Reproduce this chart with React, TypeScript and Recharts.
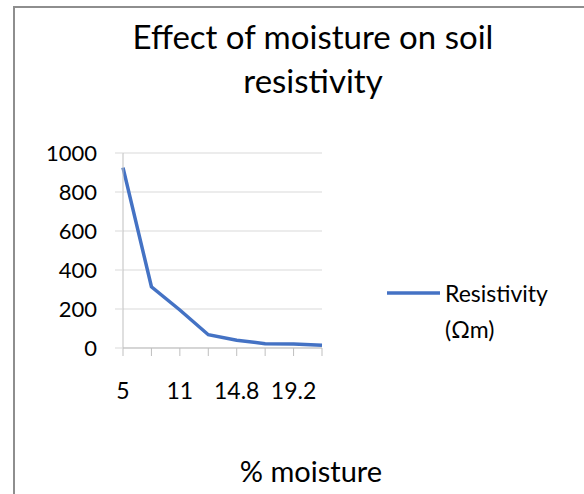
import React from 'react';
import { LineChart, Line, XAxis, YAxis, CartesianGrid, Legend } from 'recharts';

// % moisture categories (hidden labels between the shown ones are estimates)
const moisture = ['5', '8', '11', '13', '14.8', '17', '19.2', '21'];
const resistivity = [925, 314, 195, 68, 40, 22, 20, 14];
const yTicks = [0, 200, 400, 600, 800, 1000];

const SERIES_NAME = 'Resistivity (Ωm)';
const LINE_COLOR = '#4472C4';
const FONT = 'Lato, "Open Sans", "Liberation Sans", sans-serif';

const chartData = moisture.map((m, i) => ({ moisture: m, value: resistivity[i] }));

const LegendContent = () => (
    <div style={{ display: 'flex', alignItems: 'flex-start', fontFamily: FONT, fontSize: 23, color: '#000' }}>
        <svg width={60} height={24} style={{ marginTop: 2 }}>
            <line x1={2} y1={12} x2={55} y2={12} stroke={LINE_COLOR} strokeWidth={3.5} />
        </svg>
        <div style={{ lineHeight: '36px', marginTop: -4 }}>
            Resistivity
            <br />
            (Ωm)
        </div>
    </div>
);

export default function App() {
    return (
        <div
            style={{
                position: 'fixed',
                left: 0,
                top: 0,
                width: 584,
                height: 494,
                overflow: 'hidden',
                background: '#fff',
                fontFamily: FONT,
            }}
        >
            <div
                style={{
                    position: 'absolute',
                    left: 13,
                    top: 6,
                    width: 700,
                    height: 700,
                    border: '2px solid #8e8e8e',
                }}
            />
            <div
                style={{
                    position: 'absolute',
                    left: 13,
                    width: 600,
                    top: 14,
                    textAlign: 'center',
                    fontSize: 33,
                    lineHeight: '44px',
                    color: '#000',
                }}
            >
                Effect of moisture on soil
                <br />
                resistivity
            </div>
            <div
                style={{
                    position: 'absolute',
                    left: 13,
                    width: 596,
                    top: 451,
                    textAlign: 'center',
                    fontSize: 29,
                    lineHeight: '40px',
                    color: '#000',
                }}
            >
                % moisture
            </div>
            <div style={{ position: 'absolute', left: 0, top: 0 }}>
                <LineChart
                    width={584}
                    height={494}
                    data={chartData}
                    margin={{ top: 153, right: 262, left: 0, bottom: 86 }}
                >
                    <CartesianGrid vertical={false} stroke="#d9d9d9" strokeWidth={1} />
                    <XAxis
                        dataKey="moisture"
                        interval={0}
                        height={60}
                        tickSize={8}
                        tickMargin={27}
                        tickFormatter={(v: string, i: number) => (i % 2 === 0 ? v : '')}
                        tick={{ fill: '#000', fontSize: 23, fontFamily: FONT }}
                        tickLine={{ stroke: '#bfbfbf' }}
                        axisLine={{ stroke: '#bfbfbf' }}
                        padding={{ left: 0, right: 0 }}
                    />
                    <YAxis
                        width={123}
                        domain={[0, 1000]}
                        ticks={yTicks}
                        tickSize={8}
                        tickMargin={18}
                        tick={{ fill: '#000', fontSize: 22, fontFamily: FONT }}
                        tickLine={{ stroke: '#d9d9d9' }}
                        axisLine={{ stroke: '#bfbfbf' }}
                    />
                    <Legend
                        layout="horizontal"
                        verticalAlign="middle"
                        align="center"
                        content={<LegendContent />}
                        wrapperStyle={{ position: 'absolute', left: 385, top: 279, width: 195 }}
                    />
                    <Line
                        type="linear"
                        dataKey="value"
                        name={SERIES_NAME}
                        stroke={LINE_COLOR}
                        strokeWidth={3.5}
                        dot={false}
                        activeDot={false}
                        isAnimationActive={false}
                    />
                </LineChart>
            </div>
        </div>
    );
}
